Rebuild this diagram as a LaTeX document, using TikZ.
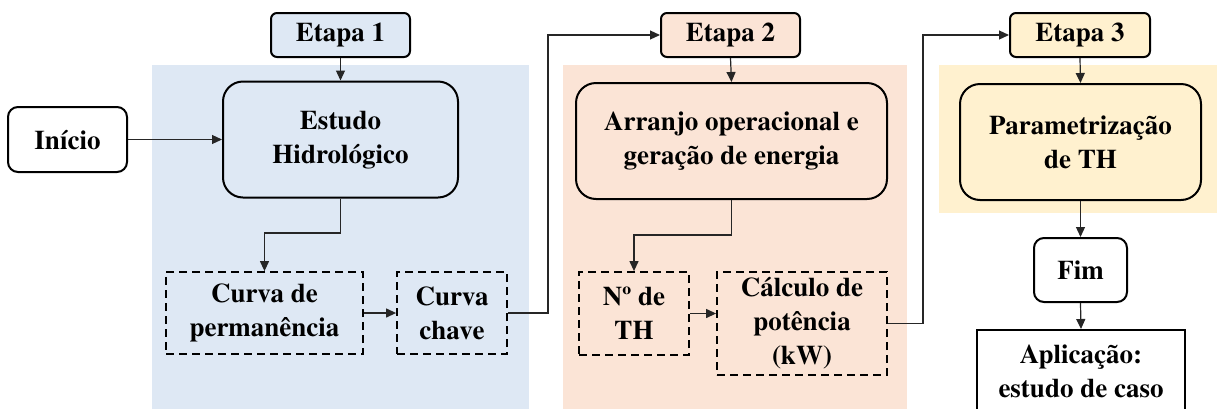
\documentclass[tikz,border=0pt]{standalone}
\usepackage[T1]{fontenc}
\usepackage{mathptmx}
\usepackage{textcomp}
\usetikzlibrary{arrows.meta}

\definecolor{azulEtapa}{HTML}{DEE8F4}
\definecolor{salmaoEtapa}{HTML}{FBE4D6}
\definecolor{amareloEtapa}{HTML}{FFF1CF}

\tikzset{
	bloco/.style={draw, line width=1pt, align=center, inner sep=0pt,
		font=\fontsize{13.5}{17}\selectfont\rmfamily\bfseries},
	etapa/.style={bloco, rounded corners=3pt, minimum width=69.5pt, minimum height=22pt},
	grande/.style={bloco, rounded corners=10pt, minimum height=58pt},
	tracejado/.style={bloco, line width=0.9pt, dash pattern=on 4pt off 2.5pt},
	seta/.style={line width=0.6pt, draw=black!85, -{Triangle[length=5pt,width=4.5pt]}},
	ligacao/.style={line width=0.6pt, draw=black!85}
}

\begin{document}
\begin{tikzpicture}[x=0.5pt, y=-0.5pt]
			%%%%% FUNDOS %%%%%
			\clip (0,0) rectangle (1217,408);
			\fill[azulEtapa] (152,65) rectangle (529,410);
			\fill[salmaoEtapa] (563,65) rectangle (907,410);
			\fill[amareloEtapa] (939,65) rectangle (1217,213);
			
			%%%%% ETAPA 1 %%%%%
			\node[etapa, fill=azulEtapa] (etapa1) at (340.5,35) {Etapa 1};
			\node[bloco, rounded corners=5pt, fill=white, minimum width=59.5pt, minimum height=32.5pt] (inicio) at (67.5,139.5) {In\'{\i}cio};
			\node[grande, fill=azulEtapa, minimum width=117.5pt] (estudo) at (340.5,139.5) {Estudo\\Hidrol\'ogico};
			\node[tracejado, minimum width=98.5pt, minimum height=41pt] (perm) at (264.5,313) {Curva de\\perman\^encia};
			\node[tracejado, minimum width=55pt, minimum height=41pt] (chave) at (452,313) {Curva\\chave};
			
			%%%%% ETAPA 2 %%%%%
			\node[etapa, fill=salmaoEtapa] (etapa2) at (730.5,35) {Etapa 2};
			\node[grande, fill=salmaoEtapa, minimum width=155.5pt] (arranjo) at (731.5,141) {Arranjo operacional e\\gera\c{c}\~ao de energia};
			\node[tracejado, minimum width=55pt, minimum height=41.5pt] (nth) at (634,313.5) {N\textordmasculine\ de\\TH};
			\node[tracejado, minimum width=85pt, minimum height=51.5pt] (calc) at (802,323.5) {C\'alculo de\\pot\^encia\\(kW)};
			
			%%%%% ETAPA 3 %%%%%
			\node[etapa, fill=amareloEtapa, minimum width=70pt] (etapa3) at (1080,35) {Etapa 3};
			\node[grande, fill=amareloEtapa, minimum width=120.5pt] (param) at (1080.5,142) {Parametriza\c{c}\~ao\\de TH};
			\node[bloco, rounded corners=5pt, fill=white, minimum width=46.5pt, minimum height=32pt] (fim) at (1080.5,270) {Fim};
			\node[bloco, fill=white, minimum width=104pt, minimum height=41pt] (aplic) at (1081,371) {Aplica\c{c}\~ao:\\estudo de caso};
			
			%%%%% LIGACOES %%%%%
			\coordinate (dobra1) at (300,233);
			\coordinate (dobra2) at (548,200);
			\coordinate (dobra3) at (690,235);
			\coordinate (dobra4) at (923,200);
			
			\draw[seta] (inicio.east) -- (estudo.west);
			\draw[seta] (etapa1.south) -- (estudo.north);
			\draw[seta] (estudo.south) |- (dobra1) -| (perm.north);
			\draw[seta] (perm.east) -- (chave.west);
			\draw[seta] (chave.east) -| (dobra2) |- (etapa2.west);
			
			\draw[seta] (etapa2.south) -- (arranjo.north);
			\draw[seta] (arranjo.south) |- (dobra3) -| (nth.north);
			\draw[seta] (nth.east) -- (nth.east -| calc.west);
			\draw[seta] (calc.east) -| (dobra4) |- (etapa3.west);
			
			\draw[seta] (etapa3.south) -- (param.north);
			\draw[seta] (param.south) -- (fim.north);
			\draw[seta] (fim.south) -- (aplic.north);
\end{tikzpicture}
\end{document}
